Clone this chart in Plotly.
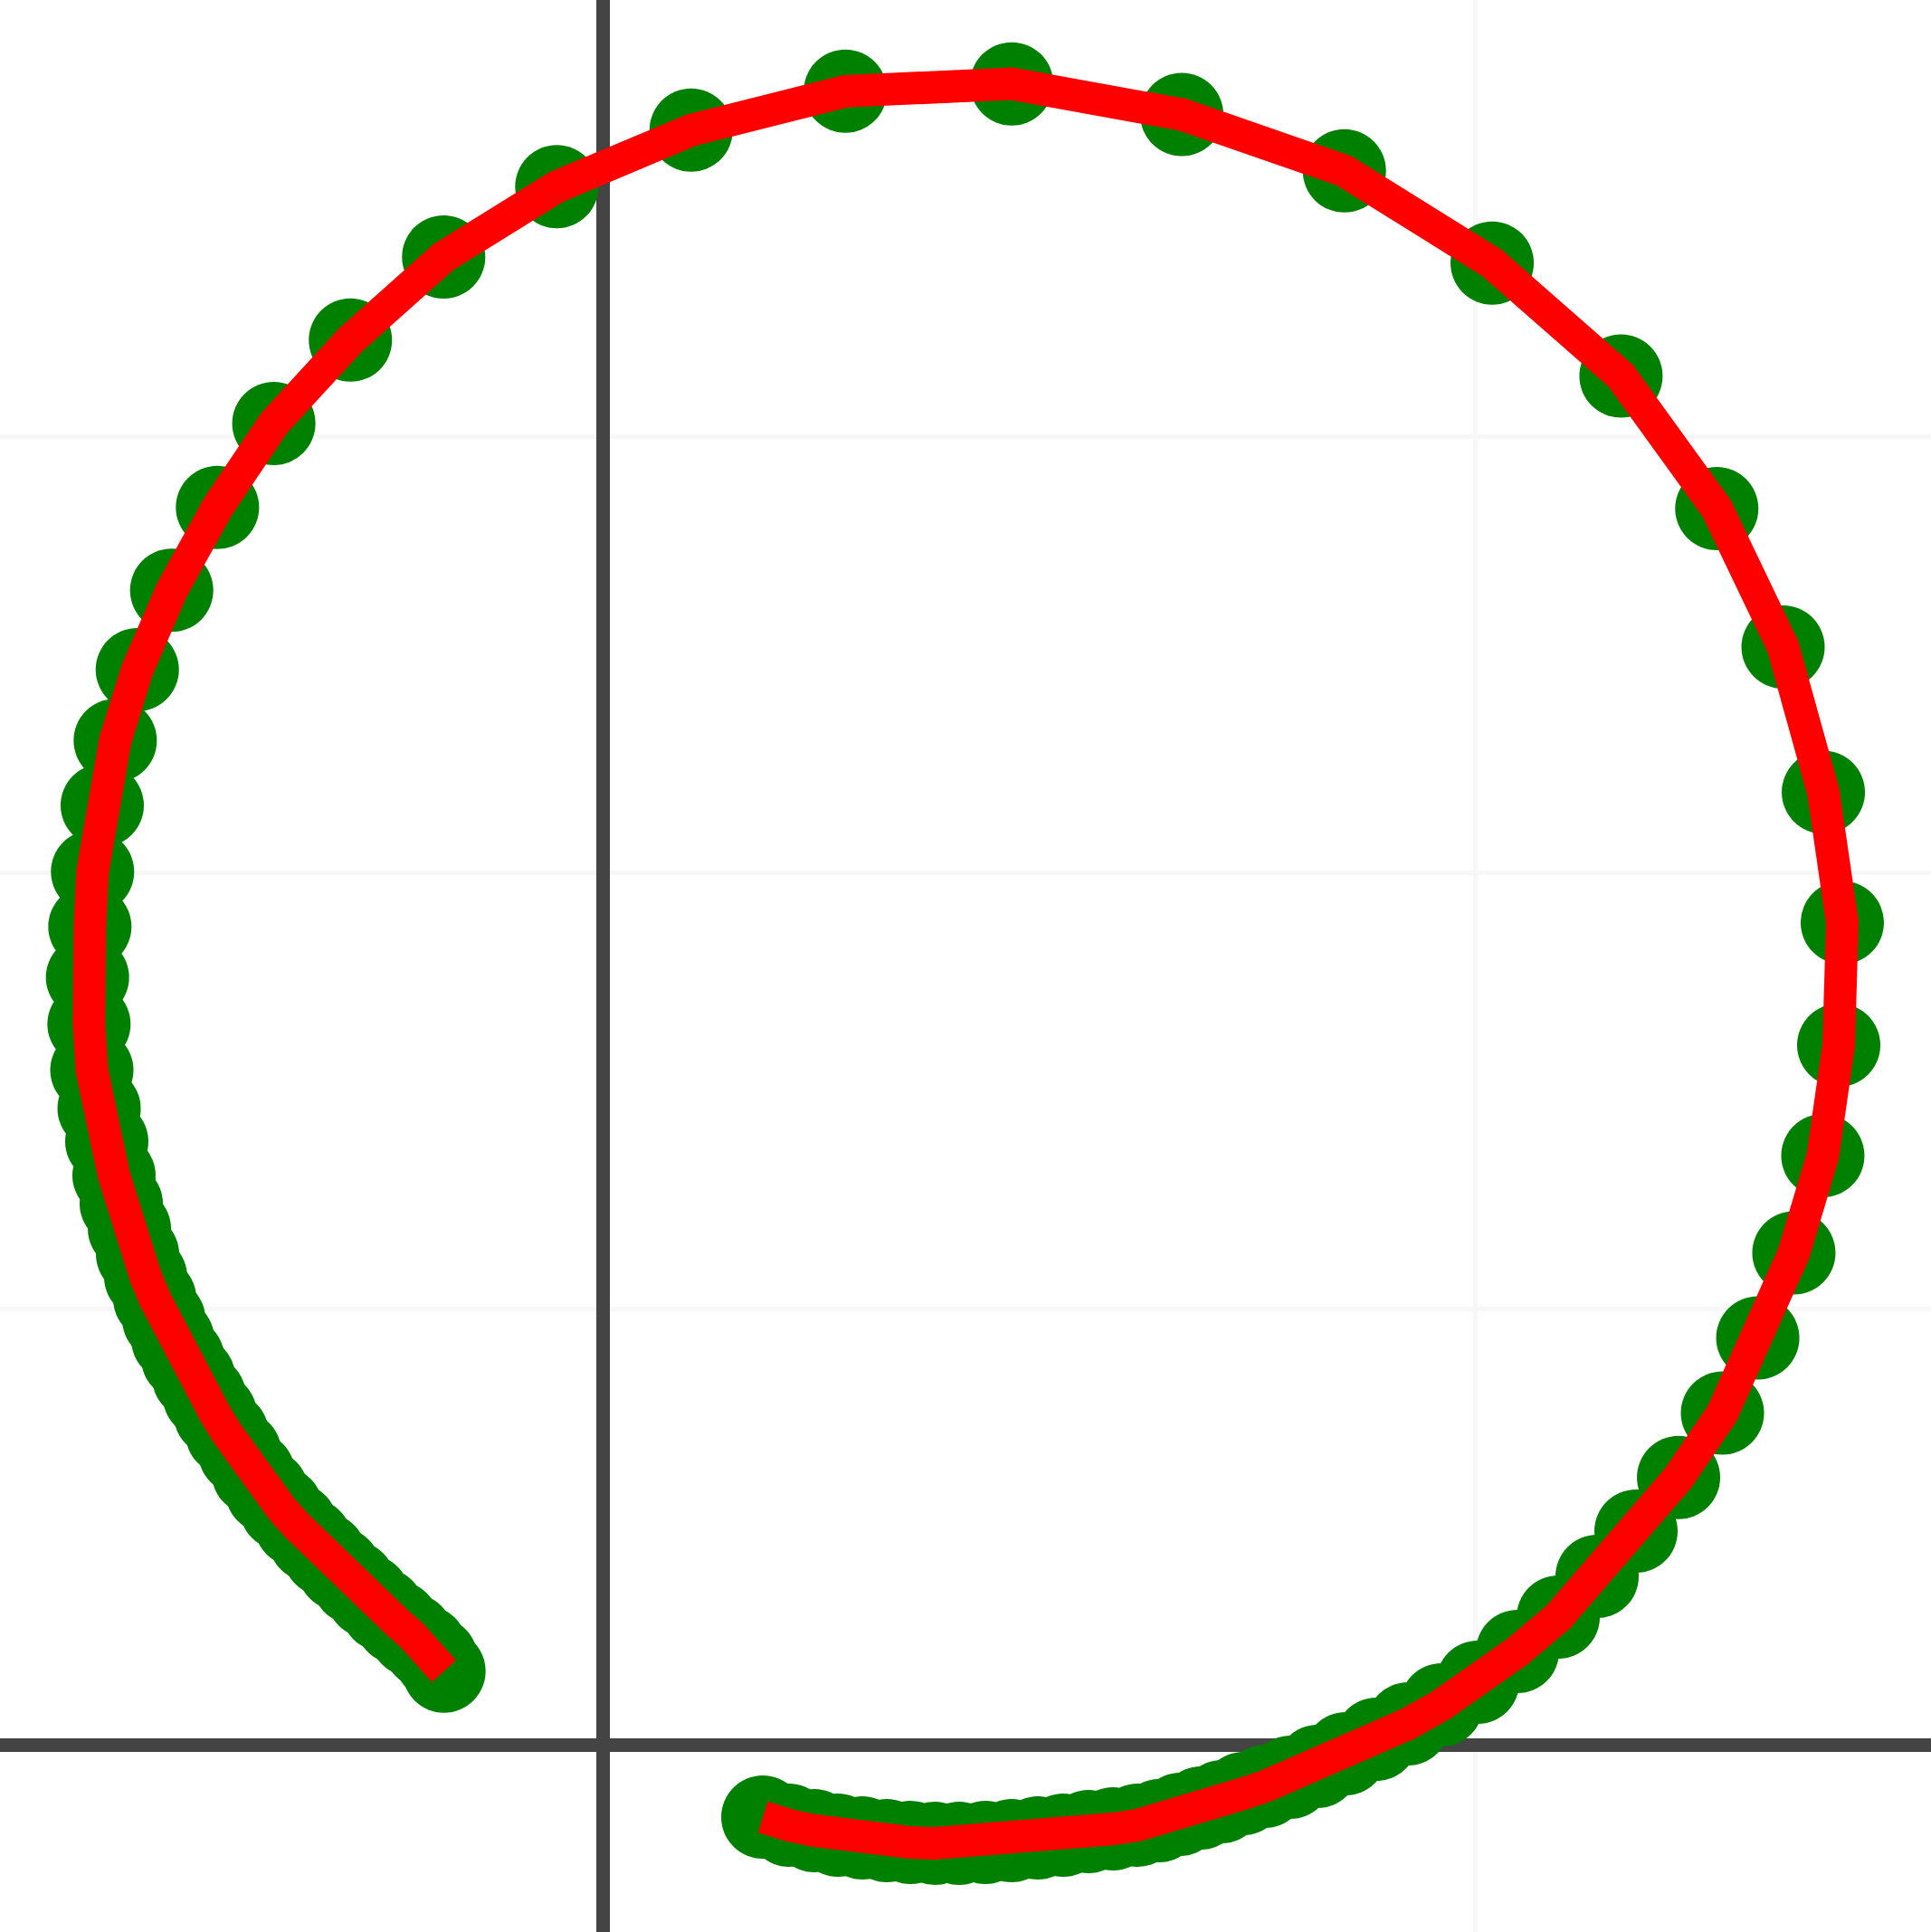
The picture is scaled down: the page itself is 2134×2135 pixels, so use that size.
import plotly.graph_objects as go

# Path of the sampled points (data units), from the lower-left end, round the loop, to the bottom end
x_vals = [
    -0.1824, -0.1914, -0.2038, -0.2194, -0.2360, -0.2526, -0.2692, -0.2858, -0.3024, -0.3190,
    -0.3356, -0.3522, -0.3688, -0.3854, -0.4009, -0.4165, -0.4310, -0.4445, -0.4570, -0.4694,
    -0.4818, -0.4933, -0.5036, -0.5140, -0.5244, -0.5337, -0.5430, -0.5524, -0.5607, -0.5690,
    -0.5778, -0.5861, -0.5894, -0.5911, -0.5884, -0.5853, -0.5742, -0.5593, -0.5340, -0.4946,
    -0.4421, -0.3775, -0.2897, -0.1828, -0.0531, 0.1009, 0.2777, 0.4684, 0.6634, 0.8498,
    1.0192, 1.1669, 1.2767, 1.3527, 1.3989, 1.4206, 1.4165, 1.3983, 1.3651, 1.3237,
    1.2832, 1.2329, 1.1841, 1.1395, 1.0949, 1.0482, 1.0026, 0.9611, 0.9227, 0.8864,
    0.8511, 0.8190, 0.7879, 0.7588, 0.7339, 0.7090, 0.6852, 0.6613, 0.6375, 0.6126,
    0.5846, 0.5565, 0.5275, 0.4984, 0.4684, 0.4383, 0.4082, 0.3802, 0.3522, 0.3252,
    0.2972, 0.2692, 0.2422, 0.2132, 0.1831,
]
y_vals = [
    0.0843, 0.0985, 0.1120, 0.1255, 0.1400, 0.1546, 0.1701, 0.1857, 0.2012, 0.2178,
    0.2344, 0.2521, 0.2707, 0.2905, 0.3112, 0.3351, 0.3568, 0.3786, 0.3994, 0.4212,
    0.4429, 0.4647, 0.4876, 0.5114, 0.5363, 0.5622, 0.5913, 0.6203, 0.6525, 0.6914,
    0.7293, 0.7733, 0.8260, 0.8797, 0.9378, 1.0007, 1.0768, 1.1511, 1.2324, 1.3233,
    1.4184, 1.5146, 1.6101, 1.7055, 1.7860, 1.8508, 1.8954, 1.9039, 1.8687, 1.8041,
    1.6985, 1.5689, 1.4170, 1.2583, 1.0918, 0.9424, 0.8019, 0.6753, 0.5638, 0.4663,
    0.3802, 0.3063, 0.2448, 0.1929, 0.1463, 0.1068, 0.0716, 0.0456, 0.0239, 0.0062,
    -0.0104, -0.0249, -0.0373, -0.0477, -0.0560, -0.0654, -0.0726, -0.0799, -0.0871, -0.0923,
    -0.0965, -0.0996, -0.1037, -0.1068, -0.1100, -0.1120, -0.1131, -0.1131, -0.1120, -0.1100,
    -0.1068, -0.1037, -0.0985, -0.0923, -0.0830,
]

fig = go.Figure()
fig.add_trace(go.Scatter(
    x=x_vals, y=y_vals, mode="markers",
    marker=dict(color="green", size=92),
    showlegend=False, hoverinfo="skip",
))
fig.add_trace(go.Scatter(
    x=x_vals, y=y_vals, mode="lines",
    line=dict(color="red", width=36),
    showlegend=False, hoverinfo="skip",
))

fig.update_layout(
    width=2134, height=2135, autosize=False,
    margin=dict(l=0, r=0, t=0, b=0, pad=0),
    plot_bgcolor="white", paper_bgcolor="white",
    xaxis=dict(range=[-0.6914, 1.5223], dtick=1, tick0=0, showticklabels=False, ticks="",
               showgrid=True, gridcolor="#f7f7f7", gridwidth=5,
               zeroline=True, zerolinecolor="#444444", zerolinewidth=15, showline=False),
    yaxis=dict(range=[-0.2147, 2.0], dtick=0.5, tick0=0, showticklabels=False, ticks="",
               showgrid=True, gridcolor="#f7f7f7", gridwidth=5,
               zeroline=True, zerolinecolor="#444444", zerolinewidth=15, showline=False),
)

fig.write_html(
    "out.html",
    config={"displayModeBar": False},
    post_script="document.body.style.margin='0';document.body.style.overflow='hidden';",
)
